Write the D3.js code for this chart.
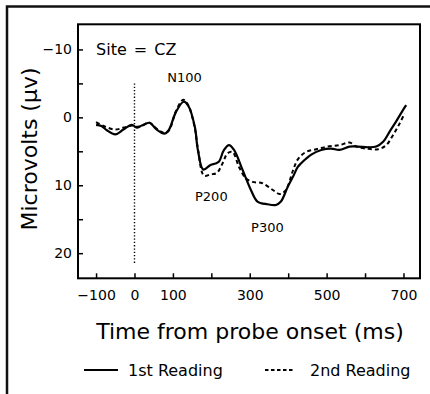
<!DOCTYPE html>
<html><head><meta charset="utf-8">
<script src="https://cdn.jsdelivr.net/npm/d3@7"></script>
<style>
html,body{margin:0;padding:0;background:#fff;}
svg{display:block;font-family:"DejaVu Sans",sans-serif;}
</style></head>
<body>
<svg id="chart" width="430" height="394"></svg>
<script>
// ---- data ----
const times1 = [-100,-85,-72,-50,-29,-7,6,19,39,58,78,89,108,128,141,157,165,179,198,211,220,233,246,259,281,303,320,346,368,381,399,412,425,433,460,486,512,533,560,581,608,629,647,664,681,699,707];
const reading1 = [1.1,1.3,1.9,2.5,1.8,1.1,1.5,1.2,0.8,1.8,2.4,1.9,-0.8,-2.3,-1.6,1.4,4.8,7.7,7.0,6.8,6.5,4.8,4.1,4.8,7.7,10.7,12.4,12.8,12.9,12.4,10.2,8.8,7.3,6.8,5.5,4.8,4.6,4.8,4.3,4.3,4.4,4.3,3.6,2.1,0.6,-1.1,-1.8];
const times2 = [-100,-75,-50,-28,-6,6,20,39,58,78,90,108,127,140,157,166,181,198,214,229,242,255,272,290,307,333,360,379,394,412,425,446,473,503,533,560,577,603,634,655,673,690,703];
const reading2 = [0.7,1.4,1.8,1.5,1.2,1.4,1.2,0.8,1.7,2.3,1.9,-0.9,-2.6,-1.8,1.6,5.0,8.6,8.4,8.2,6.8,5.3,5.1,7.3,9.0,9.5,9.7,10.7,11.3,10.7,7.9,6.2,5.1,4.7,4.3,4.1,3.7,4.3,4.6,4.7,4.1,2.6,0.9,-0.6];
const xTicks = [-100,0,100,200,300,400,500,600,700];
const xTickLabels = ["−100","0","100","","300","","500","","700"];
const yTicks = [-10,-5,0,5,10,15,20];
const yTickLabels = ["−10","","0","","10","","20"];
const seriesNames = ["1st Reading","2nd Reading"];
const peakLabels = [{t:"N100",x:130,y:-5.2},{t:"P200",x:200,y:12.3},{t:"P300",x:346,y:16.9}];

// ---- layout ----
const svg = d3.select("#chart");
const L=78, R=420, T=24.3, B=278.3;
const x = d3.scaleLinear().domain([-147,743]).range([L,R]);
const y = d3.scaleLinear().domain([-13.7,23.7]).range([T,B]);

// outer border (L shape)
svg.append("path").attr("d","M7,394 L7,6.5 L430,6.5").attr("fill","none").attr("stroke","#111").attr("stroke-width",2.5);

// frame
svg.append("rect").attr("x",L).attr("y",T).attr("width",R-L).attr("height",B-T)
  .attr("fill","none").attr("stroke","#000").attr("stroke-width",2);

// x axis ticks (inward)
const xa = svg.append("g").attr("transform",`translate(0,${B})`)
  .call(d3.axisBottom(x).tickValues(xTicks).tickSizeInner(-5).tickSizeOuter(0).tickPadding(12)
  .tickFormat((d,i)=>xTickLabels[i]));
xa.select(".domain").remove();
xa.selectAll(".tick line").attr("stroke","#000").attr("stroke-width",1.5);
xa.selectAll("text").attr("font-size",14).attr("fill","#000").attr("font-family","DejaVu Sans");

const ya = svg.append("g").attr("transform",`translate(${L},0)`)
  .call(d3.axisLeft(y).tickValues(yTicks).tickSizeInner(-5).tickSizeOuter(0).tickPadding(6)
  .tickFormat((d,i)=>yTickLabels[i]));
ya.select(".domain").remove();
ya.selectAll(".tick line").attr("stroke","#000").attr("stroke-width",1.5);
ya.selectAll("text").attr("font-size",14).attr("fill","#000").attr("font-family","DejaVu Sans");

// dotted onset line
svg.append("line").attr("x1",x(0)).attr("x2",x(0)).attr("y1",y(-5)).attr("y2",y(21.7))
  .attr("stroke","#000").attr("stroke-width",1.4).attr("stroke-dasharray","1.3,2");

// curves
const line = d3.line().curve(d3.curveCatmullRom.alpha(0.5));
const pts1 = times1.map((t,i)=>[x(t),y(reading1[i])]);
const pts2 = times2.map((t,i)=>[x(t),y(reading2[i])]);
svg.append("path").attr("d",line(pts2)).attr("fill","none").attr("stroke","#000").attr("stroke-width",2).attr("stroke-dasharray","4,3");
svg.append("path").attr("d",line(pts1)).attr("fill","none").attr("stroke","#000").attr("stroke-width",2.2);

// texts
svg.append("text").attr("x",x(-100)).attr("y",54.5).attr("font-size",16).text("Site = CZ").style("word-spacing","2px");
peakLabels.forEach(p=>{
  svg.append("text").attr("x",x(p.x)).attr("y",y(p.y)).attr("font-size",13).attr("text-anchor","middle").text(p.t);
});

// axis titles
svg.append("text").attr("transform","translate(37,149) rotate(-90)").attr("text-anchor","middle")
  .attr("font-size",22).text("Microvolts (μv)");
svg.append("text").attr("x",250).attr("y",339).attr("text-anchor","middle").attr("font-size",22)
  .text("Time from probe onset (ms)");

// legend
const lg = svg.append("g");
lg.append("line").attr("x1",84).attr("x2",118).attr("y1",370).attr("y2",370).attr("stroke","#000").attr("stroke-width",2);
lg.append("text").attr("x",128).attr("y",376).attr("font-size",16).text(seriesNames[0]);
lg.append("line").attr("x1",265).attr("x2",294).attr("y1",370).attr("y2",370).attr("stroke","#000").attr("stroke-width",2).attr("stroke-dasharray","3.5,2.5");
lg.append("text").attr("x",310).attr("y",376).attr("font-size",16).text(seriesNames[1]);
</script>
</body></html>
